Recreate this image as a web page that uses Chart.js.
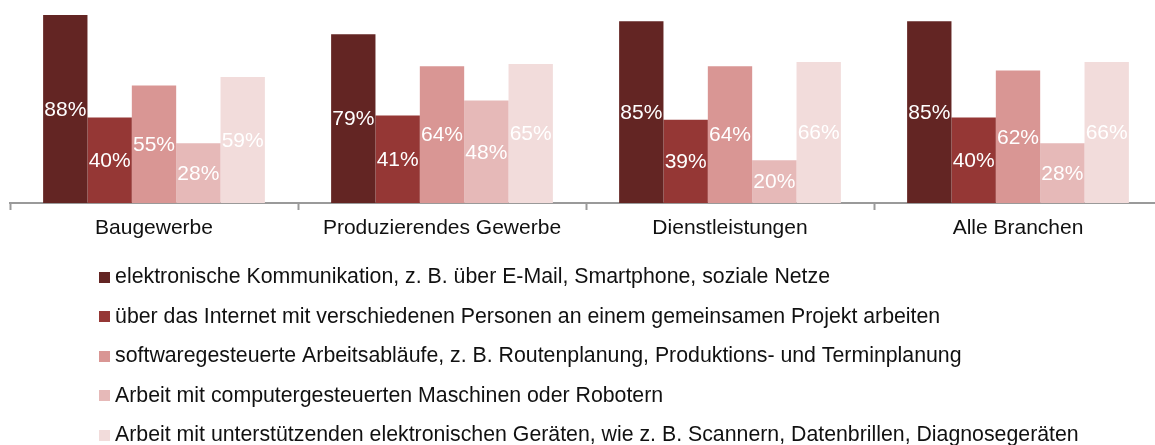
<!DOCTYPE html>
<html>
<head>
<meta charset="utf-8">
<script src="https://cdn.jsdelivr.net/npm/chart.js@4"></script>
<style>
  html, body { margin: 0; padding: 0; background: #fff; overflow: hidden; }
  #wrap { width: 1166px; height: 445px; position: relative; }
</style>
</head>
<body>
<div id="wrap"><canvas id="chart"></canvas></div>
<script>
const categories = ['Baugewerbe', 'Produzierendes Gewerbe', 'Dienstleistungen', 'Alle Branchen'];
const seriesNames = [
    'elektronische Kommunikation, z. B. über E-Mail, Smartphone, soziale Netze',
    'über das Internet mit verschiedenen Personen an einem gemeinsamen Projekt arbeiten',
    'softwaregesteuerte Arbeitsabläufe, z. B. Routenplanung, Produktions- und Terminplanung',
    'Arbeit mit computergesteuerten Maschinen oder Robotern',
    'Arbeit mit unterstützenden elektronischen Geräten, wie z. B. Scannern, Datenbrillen, Diagnosegeräten'
];
const kommunikation = [88, 79, 85, 85];
const internetProjekt = [40, 41, 39, 40];
const software = [55, 64, 64, 62];
const maschinen = [28, 48, 20, 28];
const geraete = [59, 65, 66, 66];
const seriesColors = ['#632523', '#953735', '#D99694', '#E6B9B8', '#F2DCDB'];

const FONT = '"Liberation Sans", Arial, sans-serif';

// kleine Quadrate für die Legende
const swatches = seriesColors.map(c => {
    const cv = document.createElement('canvas');
    cv.width = 11;
    cv.height = 11;
    const g = cv.getContext('2d');
    g.fillStyle = c;
    g.fillRect(0, 0, 11, 11);
    return cv;
});

// Prozentwerte mittig in die Balken schreiben
const barLabels = {
    id: 'barLabels',
    afterDatasetsDraw(chart) {
        const ctx = chart.ctx;
        ctx.save();
        ctx.font = '21px ' + FONT;
        ctx.fillStyle = '#ffffff';
        ctx.textAlign = 'center';
        ctx.textBaseline = 'middle';
        chart.data.datasets.forEach((ds, i) => {
            chart.getDatasetMeta(i).data.forEach((bar, j) => {
                ctx.fillText(ds.data[j] + '%', bar.x, (bar.y + bar.base) / 2 + 1);
            });
        });
        ctx.restore();
    }
};

// Legende nach rechts einrücken
const legendShift = {
    id: 'legendShift',
    afterLayout(chart) {
        chart.legend.left = 86.2;
        chart.legend.top += 1.2;
    }
};

const values = [kommunikation, internetProjekt, software, maschinen, geraete];

new Chart(document.getElementById('chart'), {
    type: 'bar',
    data: {
        labels: categories,
        datasets: values.map((v, i) => ({
            label: seriesNames[i],
            data: v,
            backgroundColor: seriesColors[i],
            borderWidth: 0,
            categoryPercentage: 0.77,
            barPercentage: 1.0
        }))
    },
    options: {
        responsive: true,
        maintainAspectRatio: false,
        animation: false,
        layout: { padding: { left: 10, right: 4, top: 0, bottom: 0 } },
        scales: {
            x: {
                grid: {
                    offset: true,
                    drawOnChartArea: false,
                    drawTicks: true,
                    tickLength: 7,
                    tickWidth: 2,
                    tickColor: '#9a9a9a'
                },
                border: { display: true, color: '#9a9a9a', width: 2 },
                ticks: {
                    color: '#111111',
                    font: { family: FONT, size: 21 },
                    padding: 6,
                    maxRotation: 0
                }
            },
            y: {
                display: false,
                min: 0,
                max: 95
            }
        },
        plugins: {
            tooltip: { enabled: false },
            legend: {
                position: 'bottom',
                align: 'start',
                maxHeight: 197.8,
                labels: {
                    color: '#111111',
                    font: { family: FONT, size: 21.3 },
                    padding: 18.2,
                    usePointStyle: true,
                    pointStyleWidth: 0.01,
                    generateLabels(chart) {
                        const items = Chart.defaults.plugins.legend.labels.generateLabels(chart);
                        items.forEach((it, i) => { it.pointStyle = swatches[i]; });
                        return items;
                    }
                }
            }
        }
    },
    plugins: [barLabels, legendShift]
});
</script>
</body>
</html>
